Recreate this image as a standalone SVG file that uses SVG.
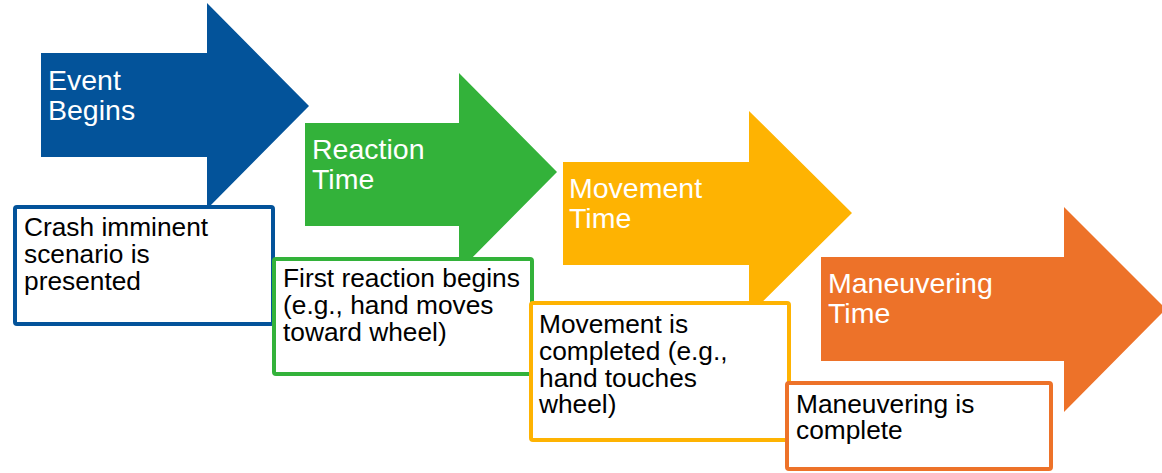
<svg xmlns="http://www.w3.org/2000/svg" width="1162" height="473" viewBox="0 0 1162 473">
<style>
.lbl{font-family:"Liberation Sans",Arial,sans-serif;font-size:28.5px;fill:#ffffff}
.txt{font-family:"Liberation Sans",Arial,sans-serif;font-size:26.3px;fill:#000000}
.box{fill:#ffffff;stroke-width:4}
</style>
<rect width="1162" height="473" fill="#ffffff"/>
<g id="connectors"></g>
<g id="event-begins">
<polygon points="41,53 207,53 207,3 309,106 207,209 207,157 41,157" fill="#03539A"/>
<text class="lbl" x="48" y="90">Event</text>
<text class="lbl" x="48" y="120">Begins</text>
</g>
<g id="crash-box">
<rect class="box" x="15" y="207" width="258" height="117" rx="2" stroke="#03539A"/>
<text class="txt" x="24" y="236">Crash imminent</text>
<text class="txt" x="24" y="263">scenario is</text>
<text class="txt" x="24" y="290">presented</text>
</g>
<g id="reaction-time">
<polygon points="305,123 459,123 459,73 557,172 459,271 459,226 305,226" fill="#33B23A"/>
<text class="lbl" x="312" y="159">Reaction</text>
<text class="lbl" x="312" y="189">Time</text>
</g>
<g id="reaction-box">
<rect class="box" x="274" y="259" width="258" height="115" rx="2" stroke="#33B23A"/>
<text class="txt" x="283" y="287">First reaction begins</text>
<text class="txt" x="283" y="314">(e.g., hand moves</text>
<text class="txt" x="283" y="341">toward wheel)</text>
</g>
<g id="movement-time">
<polygon points="563,162 749,162 749,111 852,213 749,315 749,265 563,265" fill="#FEB302"/>
<text class="lbl" x="569" y="198">Movement</text>
<text class="lbl" x="569" y="228">Time</text>
</g>
<g id="movement-box">
<rect class="box" x="531" y="303" width="258" height="137" rx="2" stroke="#FEB302"/>
<text class="txt" x="539" y="333">Movement is</text>
<text class="txt" x="539" y="360">completed (e.g.,</text>
<text class="txt" x="539" y="387">hand touches</text>
<text class="txt" x="539" y="413">wheel)</text>
</g>
<g id="maneuvering-time">
<polygon points="821,257 1064,257 1064,207 1166,309 1064,412 1064,361 821,361" fill="#ED7229"/>
<text class="lbl" x="828" y="293">Maneuvering</text>
<text class="lbl" x="828" y="323">Time</text>
</g>
<g id="maneuvering-box">
<rect class="box" x="787" y="383" width="264" height="86" rx="2" stroke="#ED7229"/>
<text class="txt" x="796" y="413">Maneuvering is</text>
<text class="txt" x="796" y="439">complete</text>
</g>
</svg>
